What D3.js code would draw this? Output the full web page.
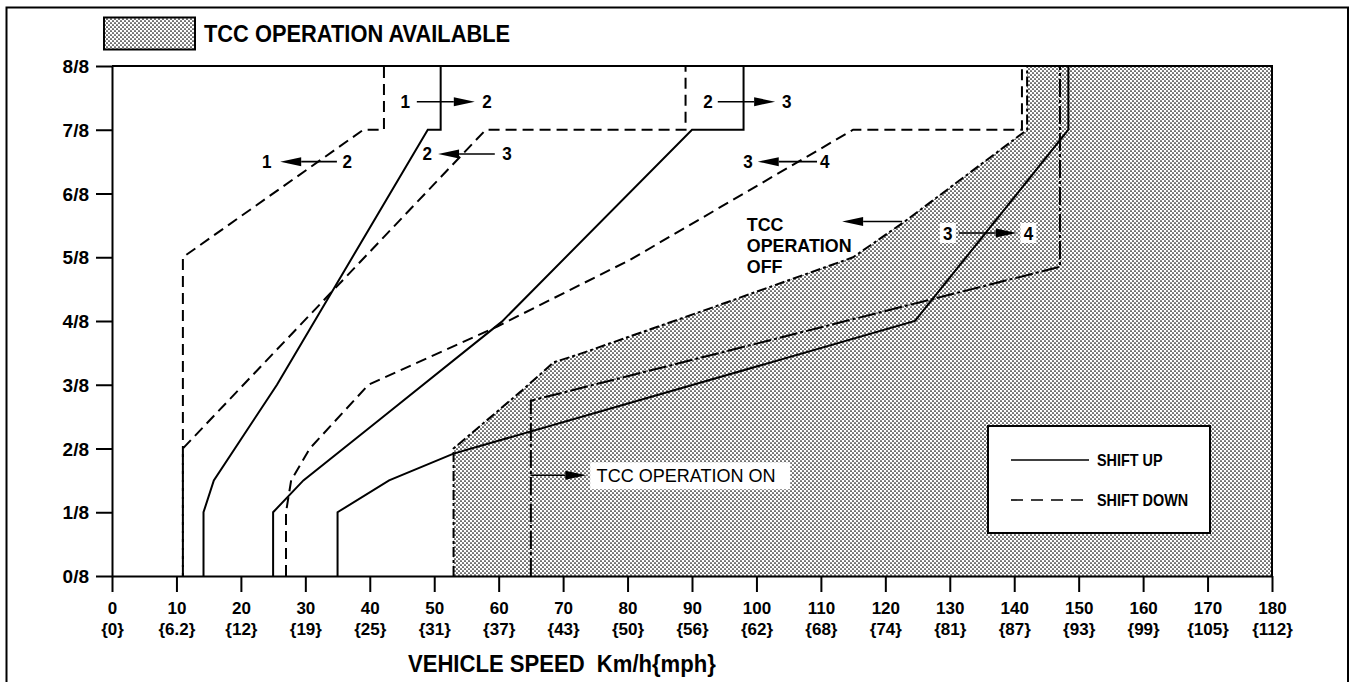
<!DOCTYPE html>
<html>
<head>
<meta charset="utf-8">
<script src="https://cdn.jsdelivr.net/npm/d3@7"></script>
<style>
  html, body { margin: 0; padding: 0; background: #fff; }
  svg { display: block; }
  text { font-family: "Liberation Sans", Arial, Helvetica, sans-serif; fill: #000; }
</style>
</head>
<body>
<svg id="chart" width="1354" height="682"></svg>
<script>
// ---- axis ticks and labels ----
const speedTicks = [0, 10, 20, 30, 40, 50, 60, 70, 80, 90, 100, 110, 120, 130, 140, 150, 160, 170, 180];
const mphLabels = ["{0}", "{6.2}", "{12}", "{19}", "{25}", "{31}", "{37}", "{43}", "{50}", "{56}",
                   "{62}", "{68}", "{74}", "{81}", "{87}", "{93}", "{99}", "{105}", "{112}"];
const throttleTicks = [0, 1, 2, 3, 4, 5, 6, 7, 8];
const throttleLabels = ["0/8", "1/8", "2/8", "3/8", "4/8", "5/8", "6/8", "7/8", "8/8"];

// ---- shift schedule: [vehicle speed km/h, throttle opening in eighths] ----
const shiftUp12   = [[14.2, 0], [14.2, 1], [15.8, 1.5], [25.6, 3], [49, 7], [51, 7], [51, 8]];
const shiftUp23   = [[25, 0], [25, 1], [29.7, 1.5], [41.5, 2.45], [60.5, 3.99], [90, 7], [98, 7], [98, 8]];
const shiftUp34   = [[35, 0], [35, 1], [43, 1.5], [53, 1.92], [124.6, 4.0], [148.4, 7], [148.4, 8]];
const shiftDown12 = [[11, 0], [11, 5], [39, 7], [42.2, 7], [42.2, 8]];
const shiftDown23 = [[11, 0], [11, 2], [58, 7], [89, 7], [89, 8]];
const shiftDown34 = [[27, 0], [27, 1], [27.8, 1.5], [30.7, 2], [39.8, 3], [59.7, 3.91], [80.4, 4.96],
                     [115, 7], [141.2, 7], [141.2, 8]];

// TCC operation available region (boundary from low throttle to full throttle)
const tccBoundary = [[53, 0], [53, 2], [63.5, 2.9], [68.5, 3.35], [72.5, 3.48], [92, 4.17],
                     [115, 5.0], [123, 5.56], [142, 7], [142, 8]];
// TCC operation on line
const tccOnLine = [[65, 0], [65, 2.75], [147.1, 4.85], [147.1, 8]];

// shift direction annotations: from, to, label speeds, tail speed, tip speed, throttle
const shiftArrows = [
  { a: "1", b: "2", la: 45.5,  lb: 58.2,  tail: 47.3,  tip: 56.3,  t: 7.44 },
  { a: "1", b: "2", la: 24.0,  lb: 36.5,  tail: 34.9,  tip: 26.1,  t: 6.5 },
  { a: "2", b: "3", la: 48.9,  lb: 61.3,  tail: 59.4,  tip: 50.6,  t: 6.62 },
  { a: "2", b: "3", la: 92.5,  lb: 104.7, tail: 94.0,  tip: 102.9, t: 7.44 },
  { a: "3", b: "4", la: 98.7,  lb: 110.6, tail: 109.4, tip: 100.2, t: 6.5 },
  { a: "3", b: "4", la: 129.7, lb: 142.2, tail: 131.4, tip: 140.4, t: 5.38, boxed: true }
];

const svg = d3.select("#chart");
const x = d3.scaleLinear().domain([0, 180]).range([112, 1272]);
const y = d3.scaleLinear().domain([0, 8]).range([576, 66]);

// bold label helper with optional horizontal squeeze
function label(parent, px, py, str, size, anchor, squeeze, weight) {
  return parent.append("text")
    .attr("transform", `translate(${px},${py}) scale(${squeeze},1)`)
    .attr("text-anchor", anchor || "start")
    .attr("font-size", size)
    .attr("font-weight", weight || "bold")
    .text(str);
}

// dotted screen pattern
const defs = svg.append("defs");
const pat = defs.append("pattern")
  .attr("id", "dots").attr("patternUnits", "userSpaceOnUse")
  .attr("width", 4).attr("height", 4);
pat.append("rect").attr("width", 4).attr("height", 4).attr("fill", "#fff");
pat.append("circle").attr("cx", 1).attr("cy", 1).attr("r", 0.85).attr("fill", "#000");
pat.append("circle").attr("cx", 3).attr("cy", 3).attr("r", 0.85).attr("fill", "#000");

// outer frame
svg.append("path")
  .attr("d", "M6.5,690 V7.5 H1348 V690")
  .attr("fill", "none").attr("stroke", "#000").attr("stroke-width", 2);

// header key
svg.append("rect").attr("x", 104).attr("y", 17.5).attr("width", 91).attr("height", 32)
  .attr("fill", "url(#dots)").attr("stroke", "#000").attr("stroke-width", 2);
label(svg, 204, 42, "TCC OPERATION AVAILABLE", 23, "start", 0.95);

const line = d3.line().x(d => x(d[0])).y(d => y(d[1]));

// shaded TCC region
const region = tccBoundary.concat([[180, 8], [180, 0]]);
svg.append("path")
  .attr("d", line(region) + "Z")
  .attr("fill", "url(#dots)").attr("stroke", "none");

// plot frame: top and right edges
svg.append("path")
  .attr("d", line([[0, 8], [180, 8], [180, 0]]))
  .attr("fill", "none").attr("stroke", "#000").attr("stroke-width", 2);

// axes
const xAxis = svg.append("g").attr("transform", `translate(0,${y(0)})`)
  .call(d3.axisBottom(x).tickValues(speedTicks).tickSize(16).tickSizeOuter(0).tickFormat(""));
xAxis.selectAll("path, line").attr("stroke", "#000").attr("stroke-width", 2);
xAxis.selectAll(".tick").each(function (d, i) {
  const g = d3.select(this);
  label(g, 0, 38, d, 17, "middle", 1);
  label(g, 0, 59, mphLabels[i], 17, "middle", 1);
});

const yAxis = svg.append("g").attr("transform", `translate(${x(0)},0)`)
  .call(d3.axisLeft(y).tickValues(throttleTicks).tickSize(16).tickSizeOuter(0).tickFormat(""));
yAxis.selectAll("path, line").attr("stroke", "#000").attr("stroke-width", 2);
yAxis.selectAll(".tick").each(function (d, i) {
  label(d3.select(this), -23, 6.5, throttleLabels[i], 19, "end", 1);
});

svg.append("text")
  .attr("transform", "translate(408,672) scale(0.96,1)")
  .attr("font-size", 23).attr("font-weight", "bold")
  .style("white-space", "pre")
  .text("VEHICLE SPEED  Km/h{mph}");

// TCC lines
svg.append("path").attr("d", line(tccBoundary))
  .attr("fill", "none").attr("stroke", "#000").attr("stroke-width", 2)
  .attr("stroke-dasharray", "10,3,3,3");
svg.append("path").attr("d", line(tccOnLine))
  .attr("fill", "none").attr("stroke", "#000").attr("stroke-width", 2)
  .attr("stroke-dasharray", "18,3,3,3");

// shift lines
const dash = "11,6";
[shiftUp12, shiftUp23, shiftUp34].forEach(s => {
  svg.append("path").attr("d", line(s))
    .attr("fill", "none").attr("stroke", "#000").attr("stroke-width", 2);
});
[[shiftDown12, 0], [shiftDown23, 8], [shiftDown34, 0]].forEach(([s, off]) => {
  svg.append("path").attr("d", line(s))
    .attr("fill", "none").attr("stroke", "#000").attr("stroke-width", 2)
    .attr("stroke-dasharray", dash).attr("stroke-dashoffset", off);
});

// arrow helper (tail -> tip, in pixels)
function arrow(x1, x2, yy) {
  const dir = Math.sign(x2 - x1);
  const base = x2 - dir * 21;
  svg.append("line").attr("x1", x1).attr("x2", base).attr("y1", yy).attr("y2", yy)
    .attr("stroke", "#000").attr("stroke-width", 1.6);
  svg.append("path")
    .attr("d", `M${x2},${yy} L${base},${yy - 4.5} L${base},${yy + 4.5} Z`)
    .attr("fill", "#000");
}

shiftArrows.forEach(a => {
  const yy = y(a.t);
  if (a.boxed) {
    [a.la, a.lb].forEach(v => {
      svg.append("rect").attr("x", x(v) - 8).attr("y", yy - 10).attr("width", 16).attr("height", 20)
        .attr("fill", "#fff");
    });
  }
  arrow(x(a.tail), x(a.tip), yy);
  label(svg, x(a.la), yy + 6.5, a.a, 18, "middle", 0.95);
  label(svg, x(a.lb), yy + 6.5, a.b, 18, "middle", 0.95);
});

// TCC operation off note
arrow(x(122.6), x(113.3), y(5.56));
["TCC", "OPERATION", "OFF"].forEach((t, i) => {
  label(svg, x(98.5), 231 + i * 21, t, 19, "start", 0.94);
});

// TCC operation on note
const onY = y(1.58);
arrow(x(65), x(73.6), onY);
svg.append("rect").attr("x", x(74.2)).attr("y", onY - 13).attr("width", 200).attr("height", 27)
  .attr("fill", "#fff");
label(svg, x(75.2), onY + 7, "TCC OPERATION ON", 19, "start", 0.95, "normal");

// key box
const key = svg.append("g").attr("transform", "translate(988,426)");
key.append("rect").attr("width", 222).attr("height", 107)
  .attr("fill", "#fff").attr("stroke", "#000").attr("stroke-width", 2);
key.append("line").attr("x1", 23).attr("x2", 101).attr("y1", 34).attr("y2", 34)
  .attr("stroke", "#000").attr("stroke-width", 1.6);
key.append("line").attr("x1", 23).attr("x2", 101).attr("y1", 74).attr("y2", 74)
  .attr("stroke", "#000").attr("stroke-width", 1.6).attr("stroke-dasharray", "12,8");
label(key, 109, 40, "SHIFT UP", 16, "start", 0.9);
label(key, 109, 80, "SHIFT DOWN", 16, "start", 0.9);
</script>
</body>
</html>
